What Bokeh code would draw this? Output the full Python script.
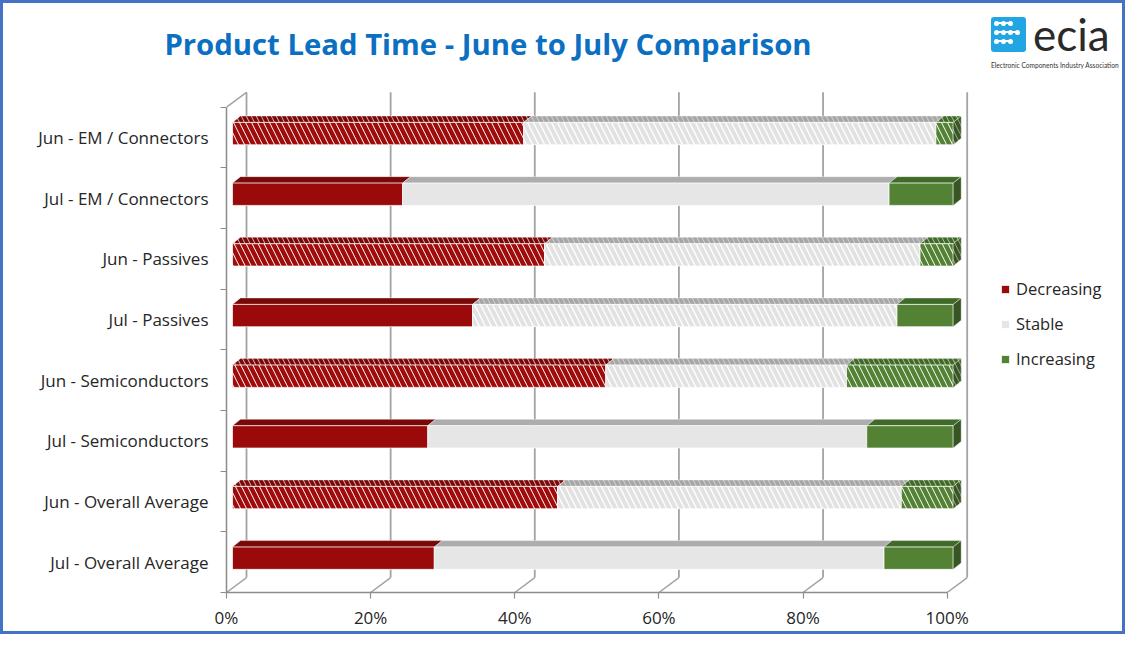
from bokeh.plotting import figure
from bokeh.layouts import column
from bokeh.models import (FixedTicker, PrintfTickFormatter, Legend, LegendItem, Range1d, Div)
from bokeh.embed import file_html
from bokeh.resources import INLINE

# ---------------- data ----------------
categories = ["Jun - EM / Connectors", "Jul - EM / Connectors", "Jun - Passives",
              "Jul - Passives", "Jun - Semiconductors", "Jul - Semiconductors",
              "Jun - Overall Average", "Jul - Overall Average"]
decreasing = [40.4, 23.6, 43.3, 33.3, 51.8, 27.1, 45.1, 28.0]
stable = [57.2, 67.5, 52.1, 58.9, 33.4, 60.9, 47.7, 62.4]
increasing = [2.4, 8.9, 4.6, 7.8, 14.8, 12.0, 7.2, 9.6]
series_names = ["Decreasing", "Stable", "Increasing"]
x_ticks = [0, 20, 40, 60, 80, 100]
title_text = "Product Lead Time - June to July Comparison"
logo_text = "ecia"
logo_sub = "Electronic Components Industry Association"

# ---------------- geometry ----------------
BW = 3                                 # page border width
W = 1125 - 2 * BW
HEAD_H = 68
MAIN_H = 634 - 2 * BW - HEAD_H
X0_PAGE, Y0_PAGE = 226.0, 596.0       # front-plane origin on the page
PXX = 720.7 / 100.0                   # px per percent
PXY = 61.125                          # px per category row
BORDER = "#4472C4"
FONT = "Open Sans"
TXT = "#262626"
MAIN_TOP = BW + HEAD_H                # page y of main figure top
MAIN_LEFT = BW


def dx(px):
    return px / PXX


def dy(px):
    return px / PXY


def xp(page_x):
    return (page_x - X0_PAGE) / PXX


def yp(page_y):
    return (Y0_PAGE - page_y) / PXY


WX, WY = dx(20), dy(15)        # back wall depth
BX, BY = dx(6), dy(4)          # bar front offset from front plane
DX, DY = dx(8), dy(6.5)        # bar depth
BH = dy(22.5)                  # bar front height

# ---------------- header (title + logo) ----------------
lx, ly = 988, 14   # logo square top-left inside header
dots = [(5, 6), (12, 6), (19, 6), (5, 15), (12, 15), (19, 15), (26, 15),
        (5, 24), (12, 24), (19, 24)]
dot_html = "".join(
    f"<div style='position:absolute;left:{lx + a - 2.5}px;top:{ly + b - 2.5}px;width:5px;"
    f"height:5px;border-radius:50%;background:#fff'></div>" for a, b in dots)
line_html = "".join(
    f"<div style='position:absolute;left:{lx + a}px;top:{ly + b - 0.75}px;width:{w}px;"
    f"height:1.5px;background:#fff'></div>" for a, b, w in [(5, 6, 14), (5, 15, 21), (5, 24, 14)])
head_html = (
    f"<div style='position:relative;width:{W}px;height:{HEAD_H}px;background:#fff;overflow:hidden'>"
    f"<div style='position:absolute;left:0;top:21px;width:970px;text-align:center;"
    f"font-family:\"{FONT}\";font-weight:bold;font-size:29.3px;line-height:40px;"
    f"color:#0B6FC2;white-space:nowrap'>{title_text}</div>"
    f"<div style='position:absolute;left:{lx}px;top:{ly}px;width:35px;height:35px;"
    f"border-radius:3px;background:#22A6E3'></div>"
    f"{line_html}{dot_html}"
    f"<div style='position:absolute;left:{lx + 42}px;top:11px;font-family:Lato;font-size:44px;"
    f"line-height:40px;color:#2A2A2A;white-space:nowrap'>{logo_text}</div>"
    f"<div style='position:absolute;left:{lx}px;top:58px;font-family:Lato;font-size:6.6px;"
    f"line-height:8px;color:#333;white-space:nowrap'>{logo_sub}</div>"
    f"</div>")
head = Div(text=head_html, width=W, height=HEAD_H, margin=0)

# ---------------- main figure ----------------
p = figure(width=W, height=MAIN_H, output_backend="svg", toolbar_location=None,
           x_range=Range1d(0, xp(MAIN_LEFT + W)), y_range=Range1d(0, yp(MAIN_TOP)),
           min_border_left=int(X0_PAGE - MAIN_LEFT), min_border_right=0, min_border_top=0,
           min_border_bottom=int(MAIN_TOP + MAIN_H - Y0_PAGE), outline_line_color=None,
           background_fill_color="white", border_fill_color="white")
p.xgrid.visible = False
p.ygrid.visible = False

n = len(categories)
GRID = "#A3A3A3"

# back wall / floor gridlines
gx = [t + WX for t in x_ticks]
p.segment(x0=gx, y0=[WY] * len(gx), x1=gx, y1=[n + WY] * len(gx),
          line_color=GRID, line_width=1.8)
p.segment(x0=x_ticks, y0=[0] * len(x_ticks), x1=gx, y1=[WY] * len(gx),
          line_color=GRID, line_width=1.5)
p.segment(x0=[0], y0=[n], x1=[WX], y1=[n + WY], line_color=GRID, line_width=1.5)

# bars
styles = {
    "Decreasing": dict(front="#9A0A0A", top="#7A0808", side="#6A0606",
                       hfill="#FFFFFF", hcol="#A00C0C", htopfill="#D8A8A8", htop="#7A0808",
                       hside="#6A0606", hw=4.5),
    "Stable": dict(front="#E6E6E6", top="#ADADAD", side="#9A9A9A",
                   hfill="#FFFFFF", hcol="#E2E2E2", htopfill="#D0D0D0", htop="#A6A6A6",
                   hside="#9A9A9A", hw=4),
    "Increasing": dict(front="#548235", top="#3F6A27", side="#375623",
                       hfill="#FFFFFF", hcol="#548235", htopfill="#A8BC98", htop="#3F6A27",
                       hside="#375623", hw=4.5),
}
series_vals = [decreasing, stable, increasing]
legend_renderers = {}
cum = [0.0] * n
for sname, vals in zip(series_names, series_vals):
    st = styles[sname]
    groups = {True: dict(l=[], r=[], b=[], t=[], txs=[], tys=[], sxs=[], sys=[]),
              False: dict(l=[], r=[], b=[], t=[], txs=[], tys=[], sxs=[], sys=[])}
    for k, (cat, v) in enumerate(zip(categories, vals)):
        row = n - 1 - k
        hatched = cat.startswith("Jun") or (cat == "Jul - Passives" and sname == "Stable")
        g = groups[hatched]
        yc = row + 0.5 + BY
        l, r = cum[k] + BX, cum[k] + v + BX
        b, t = yc - BH / 2, yc + BH / 2
        g["l"].append(l); g["r"].append(r); g["b"].append(b); g["t"].append(t)
        g["txs"].append([l, r, r + DX, l + DX])
        g["tys"].append([t, t, t + DY, t + DY])
        if sname == series_names[-1]:
            g["sxs"].append([r, r + DX, r + DX, r])
            g["sys"].append([b, b + DY, t + DY, t])
        cum[k] += v
    for hatched, g in groups.items():
        if not g["l"]:
            continue
        if hatched:
            p.patches(g["txs"], g["tys"], fill_color=st["htopfill"],
                      hatch_pattern="left_diagonal_line", hatch_color=st["htop"],
                      hatch_scale=10, hatch_weight=3.5,
                      line_color="white", line_alpha=0.5, line_width=0.8)
            p.quad(left=g["l"], right=g["r"], bottom=g["b"], top=g["t"],
                   fill_color=st["hfill"], hatch_pattern="left_diagonal_line",
                   hatch_color=st["hcol"], hatch_scale=12, hatch_weight=st["hw"],
                   line_color="white", line_alpha=0.7, line_width=1)
            if g["sxs"]:
                p.patches(g["sxs"], g["sys"], fill_color="#8FA080",
                          hatch_pattern="left_diagonal_line", hatch_color=st["hside"],
                          hatch_scale=10, hatch_weight=3.5,
                          line_color="white", line_alpha=0.5, line_width=0.8)
        else:
            p.patches(g["txs"], g["tys"], fill_color=st["top"],
                      line_color="white", line_alpha=0.5, line_width=0.8)
            rr = p.quad(left=g["l"], right=g["r"], bottom=g["b"], top=g["t"],
                        fill_color=st["front"], line_color="white", line_alpha=0.7,
                        line_width=1)
            legend_renderers[sname] = rr
            if g["sxs"]:
                p.patches(g["sxs"], g["sys"], fill_color=st["side"],
                          line_color="white", line_alpha=0.5, line_width=0.8)

# axes
yax = p.yaxis[0]
yax.ticker = FixedTicker(ticks=[i + 0.5 for i in range(n)], minor_ticks=list(range(n + 1)))
yax.major_label_overrides = {i + 0.5: categories[n - 1 - i] for i in range(n)}
yax.bounds = (0, n)
yax.axis_line_color = "#8C8C8C"
yax.axis_line_width = 1.5
yax.major_tick_line_color = None
yax.major_tick_out = 0
yax.major_tick_in = 0
yax.minor_tick_line_color = "#8C8C8C"
yax.minor_tick_line_width = 1.2
yax.minor_tick_out = 6
yax.minor_tick_in = 0
yax.major_label_standoff = 12
yax.major_label_text_font = FONT
yax.major_label_text_font_size = "17px"
yax.major_label_text_color = TXT

xax = p.xaxis[0]
xax.ticker = FixedTicker(ticks=x_ticks, minor_ticks=[])
xax.formatter = PrintfTickFormatter(format="%d%%")
xax.bounds = (0, 100)
xax.axis_line_color = "#8C8C8C"
xax.axis_line_width = 1.5
xax.major_tick_line_color = "#8C8C8C"
xax.major_tick_line_width = 1.2
xax.major_tick_out = 6
xax.major_tick_in = 0
xax.minor_tick_line_color = None
xax.major_label_standoff = 7
xax.major_label_text_font = FONT
xax.major_label_text_font_size = "17px"
xax.major_label_text_color = TXT

# legend
legend = Legend(items=[LegendItem(label=s, renderers=[legend_renderers[s]]) for s in series_names],
                location=(774, 222), orientation="vertical",
                glyph_width=10, glyph_height=10, label_standoff=6, spacing=12,
                label_height=20, padding=0, margin=0, border_line_color=None,
                background_fill_alpha=0, label_text_font=FONT,
                label_text_font_size="16.5px", label_text_color=TXT)
p.add_layout(legend)

layout = column(head, p, spacing=0)
layout.styles = {"border": f"{BW}px solid {BORDER}"}

open("out.html", "w").write(file_html(layout, INLINE))
